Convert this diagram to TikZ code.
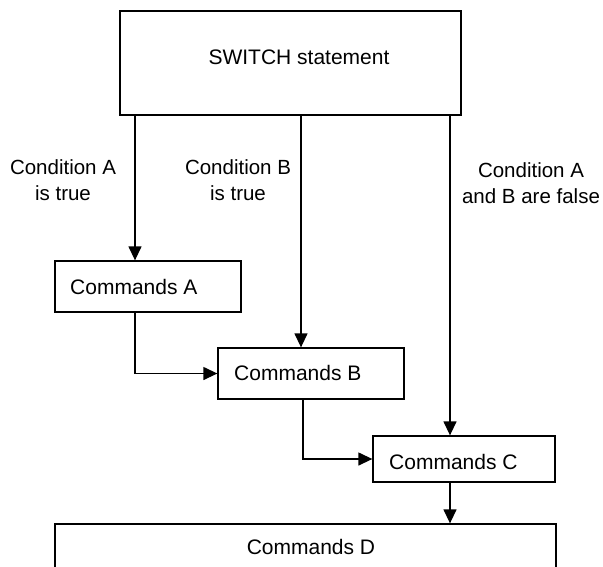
\documentclass[tikz,border=0pt]{standalone}
\usepackage{fontspec}
\setmainfont{Liberation Sans}
\usetikzlibrary{arrows.meta}
\begin{document}
\begin{tikzpicture}[x=1pt,y=-1pt,
  box/.style={draw,line width=1.3pt,minimum width=#1,inner sep=0pt},
  txt/.style={font=\fontsize{21}{25}\selectfont,inner sep=0pt},
  lbl/.style={font=\fontsize{20.5}{26}\selectfont,align=center,inner sep=0pt},
  arr/.style={line width=1.3pt,-{Triangle[length=14pt,width=13pt]}},
  ln/.style={line width=1.3pt}]
\useasboundingbox (0,0) rectangle (603,566);
\clip (0,0) rectangle (603,566);
\node[box=341pt,minimum height=104pt] (sw) at (290.5,63) {};
\node[box=186pt,minimum height=51pt] (ca) at (148,286.5) {};
\node[box=186pt,minimum height=51pt] (cb) at (311,373.5) {};
\node[box=182pt,minimum height=46pt] (cc) at (464,459) {};
\node[box=501pt,minimum height=76pt] (cd) at (305.5,562) {};
\node[txt] (tsw) at (299,57) {SWITCH statement};
\node[txt,anchor=west] (ta) at (70,287) {Commands A};
\node[txt,anchor=west] (tb) at (234,373) {Commands B};
\node[txt,anchor=west] (tc) at (389,462) {Commands C};
\node[txt] (td) at (311,547) {Commands D};
\node[lbl] (la) at (63,180) {Condition A\\is true};
\node[lbl] (lb) at (238,180) {Condition B\\is true};
\node[lbl] (lc) at (531,183) {Condition A\\and B are false};
\coordinate (ax) at (135,0);
\coordinate (bx) at (301,0);
\coordinate (bx2) at (303,0);
\coordinate (cx) at (450,0);
\draw[arr] (ax |- sw.south) -- (ax |- ca.north);
\draw[arr] (bx |- sw.south) -- (bx |- cb.north);
\draw[arr] (cx |- sw.south) -- (cx |- cc.north);
\draw[arr] (ax |- ca.south) |- (cb.west);
\draw[arr] (bx2 |- cb.south) |- (cc.west);
\draw[arr] (cx |- cc.south) -- (cx |- cd.north);
\end{tikzpicture}
\end{document}
